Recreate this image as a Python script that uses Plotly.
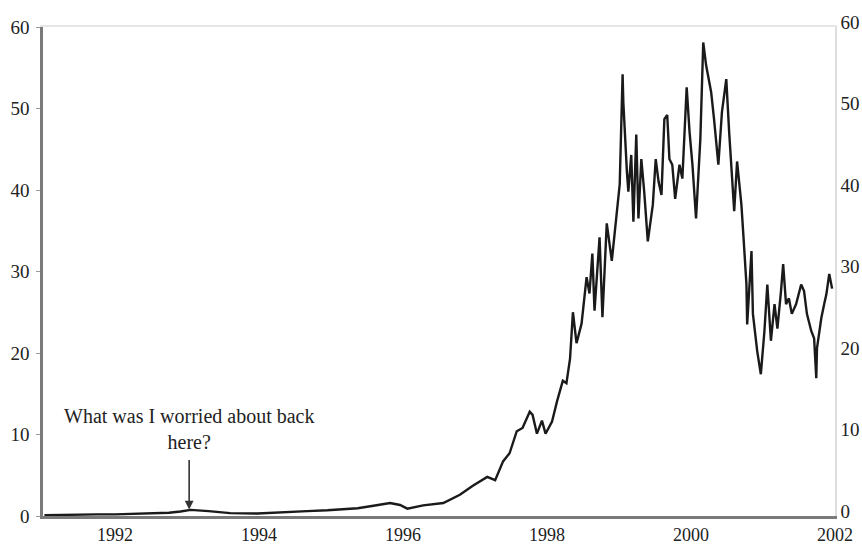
import plotly.graph_objects as go

# Share price, decimal year vs. price in dollars
years = [
    1991.02, 1991.25, 1991.50, 1991.75, 1992.00, 1992.25, 1992.50, 1992.75,
    1992.91, 1993.05, 1993.30, 1993.60, 1993.98, 1994.30, 1994.67, 1994.95,
    1995.13, 1995.37, 1995.59, 1995.82, 1995.96, 1996.06, 1996.28, 1996.56,
    1996.79, 1996.97, 1997.17, 1997.28, 1997.39, 1997.48, 1997.58, 1997.66,
    1997.76, 1997.80, 1997.86, 1997.93, 1997.98, 1998.07, 1998.14, 1998.22,
    1998.27, 1998.32, 1998.36, 1998.41, 1998.48, 1998.55, 1998.59, 1998.63,
    1998.66, 1998.73, 1998.77, 1998.83, 1998.90, 1998.97, 1999.01, 1999.05,
    1999.06, 1999.11, 1999.13, 1999.17, 1999.20, 1999.24, 1999.27, 1999.31,
    1999.35, 1999.40, 1999.47, 1999.51, 1999.55, 1999.59, 1999.63, 1999.67,
    1999.70, 1999.74, 1999.78, 1999.84, 1999.88, 1999.94, 1999.98, 2000.02,
    2000.07, 2000.13, 2000.17, 2000.21, 2000.28, 2000.32, 2000.38, 2000.43,
    2000.49, 2000.53, 2000.57, 2000.60, 2000.64, 2000.70, 2000.73, 2000.77,
    2000.78, 2000.84, 2000.86, 2000.92, 2000.97, 2001.02, 2001.06, 2001.11,
    2001.16, 2001.20, 2001.25, 2001.28, 2001.32, 2001.36, 2001.40, 2001.46,
    2001.53, 2001.57, 2001.61, 2001.67, 2001.71, 2001.74, 2001.75, 2001.81,
    2001.85, 2001.88, 2001.92, 2001.96,
]
price = [
    0.10, 0.15, 0.15, 0.20, 0.20, 0.25, 0.30, 0.40,
    0.55, 0.75, 0.60, 0.35, 0.30, 0.40, 0.60, 0.70,
    0.80, 0.95, 1.25, 1.60, 1.35, 0.90, 1.30, 1.60,
    2.60, 3.70, 4.80, 4.40, 6.70, 7.70, 10.4, 10.8,
    12.8, 12.4, 10.1, 11.7, 10.1, 11.6, 14.1, 16.6,
    16.3, 19.3, 25.0, 21.2, 23.6, 29.3, 27.3, 32.2,
    25.2, 34.2, 24.4, 35.9, 31.3, 37.4, 40.7, 54.2,
    50.8, 42.2, 39.8, 44.3, 36.1, 46.8, 36.5, 43.8,
    39.8, 33.7, 38.2, 43.8, 41.0, 39.4, 48.7, 49.2,
    43.8, 43.1, 38.9, 43.1, 41.4, 52.6, 47.1, 43.1,
    36.5, 46.3, 58.1, 55.3, 52.0, 48.7, 43.1, 49.6,
    53.6, 47.1, 42.2, 37.4, 43.5, 38.2, 34.1, 28.4,
    23.5, 32.5, 24.8, 20.2, 17.4, 22.7, 28.4, 21.5,
    26.0, 23.0, 27.6, 30.9, 26.0, 26.7, 24.8, 26.0,
    28.4, 27.6, 24.8, 22.7, 21.8, 16.9, 20.6, 24.3,
    26.0, 27.2, 29.7, 27.9,
]

x_ticks = [1992, 1994, 1996, 1998, 2000, 2002]
x_labels = ["1992", "1994", "1996", "1998", "2000", "2002"]
y_ticks = [0, 10, 20, 30, 40, 50, 60]

note_year = 1993.03
note_price = 0.8
note_text = "What was I worried about back<br>here?"

serif = "Liberation Serif, Times New Roman, serif"
ink = "#222222"

fig = go.Figure()
fig.add_trace(go.Scatter(
    x=years, y=price, mode="lines",
    line=dict(color="#1a1a1a", width=2.4),
    hoverinfo="skip", showlegend=False,
))
# same series on the right-hand scale so that axis is drawn
fig.add_trace(go.Scatter(
    x=years, y=price, mode="lines", yaxis="y2", xaxis="x2",
    line=dict(color="rgba(0,0,0,0)", width=0),
    hoverinfo="skip", showlegend=False,
))

fig.add_annotation(
    x=note_year, y=note_price, xref="x", yref="y",
    text=note_text, showarrow=True,
    ax=0, ay=-80, arrowhead=2, arrowsize=1.1, arrowwidth=1.6,
    arrowcolor="#333333", standoff=0, borderpad=6,
    font=dict(family=serif, size=20, color=ink),
    align="center",
)

fig.update_layout(
    width=862, height=546,
    margin=dict(l=43, r=27, t=27, b=30),
    paper_bgcolor="white", plot_bgcolor="white",
    font=dict(family=serif, size=19, color=ink),
    xaxis=dict(
        range=[1991, 2002], tickvals=x_ticks, ticktext=x_labels,
        showgrid=False, zeroline=False, automargin=False,
        showline=True, linecolor="#7a7a7a", linewidth=2.5,
        ticks="", ticklabelstandoff=1,
        tickfont=dict(family=serif, size=18, color=ink),
    ),
    xaxis2=dict(
        range=[1991, 2002], overlaying="x", side="top", automargin=False,
        showgrid=False, zeroline=False, showticklabels=False,
        showline=True, linecolor="#e6e6e6", linewidth=1.5, ticks="",
    ),
    yaxis=dict(
        range=[0, 60], tickvals=y_ticks, automargin=False,
        showgrid=False, zeroline=False,
        showline=True, linecolor="#7a7a7a", linewidth=2.5,
        ticks="outside", ticklen=4, tickcolor="#9a9a9a", tickwidth=1,
        ticklabelstandoff=3,
        tickfont=dict(family=serif, size=19, color=ink),
    ),
    yaxis2=dict(
        range=[0, 60], tickvals=y_ticks, overlaying="y", side="right",
        showgrid=False, zeroline=False, automargin=False,
        showline=True, linecolor="#dedede", linewidth=1.5,
        ticks="", ticklabelstandoff=0, ticklabelshift=-5,
        tickfont=dict(family=serif, size=19, color=ink),
    ),
)

fig.write_html("out.html")
